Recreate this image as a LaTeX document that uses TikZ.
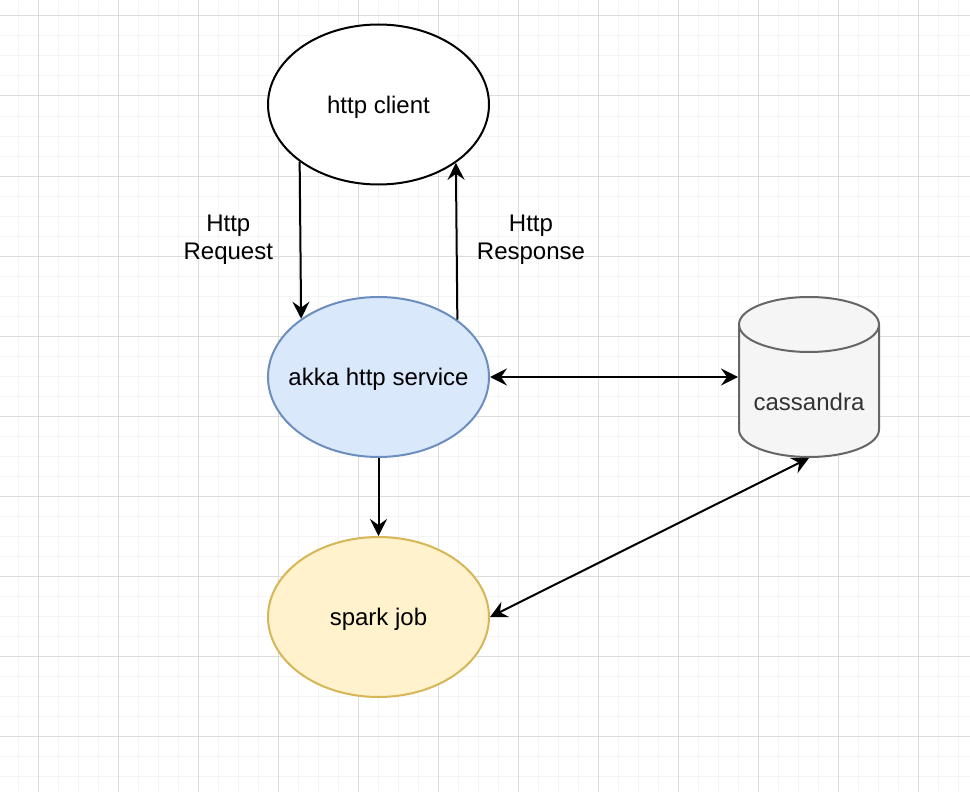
\documentclass[tikz,border=0pt]{standalone}
\usepackage{fontspec}
\setmainfont{Liberation Sans}
\usetikzlibrary{shapes.geometric,arrows.meta}
\definecolor{gridmajor}{HTML}{DCDCDC}
\definecolor{gridminor}{HTML}{F4F4F4}
\definecolor{akkafill}{HTML}{DAE8FC}
\definecolor{akkaline}{HTML}{6C8EBF}
\definecolor{sparkfill}{HTML}{FFF2CC}
\definecolor{sparkline}{HTML}{D6B656}
\definecolor{cylfill}{HTML}{F5F5F5}
\definecolor{cylline}{HTML}{666666}
\definecolor{cyltext}{HTML}{333333}
\tikzset{
  txt/.style={font=\fontsize{24}{27.5}\selectfont},
  oval/.style={ellipse, draw, line width=2pt, minimum width=221pt, minimum height=160pt, inner sep=0pt},
  ovaltext/.style={label={[txt, yshift=-2.5pt, inner sep=0pt]center:#1}},
  tip/.tip={Stealth[length=17pt,width=17pt,inset=6pt]},
  conn/.style={line width=2pt, -tip},
  biconn/.style={line width=2pt, tip-tip},
  lbl/.style={txt, align=center, inner sep=0pt},
}
\begin{document}
\begin{tikzpicture}[x=1pt,y=-1pt]
\useasboundingbox (0,0) rectangle (970,792);
\fill[white] (0,0) rectangle (970,792);
% grid
\foreach \gx in {18,38,...,958} \draw[gridminor, line width=1pt] (\gx,0) -- (\gx,792);
\foreach \gy in {16,36,...,776} \draw[gridminor, line width=1pt] (0,\gy) -- (970,\gy);
\foreach \gx in {38,118,...,918} \draw[gridmajor, line width=1pt] (\gx,0) -- (\gx,792);
\foreach \gy in {16,96,...,736} \draw[gridmajor, line width=1pt] (0,\gy) -- (970,\gy);
% nodes
\node[oval, fill=white, ovaltext={http client}] (hc) at (378.5,104.5) {};
\node[oval, fill=akkafill, draw=akkaline, ovaltext={akka http service}] (akka) at (378.5,377) {};
\node[oval, fill=sparkfill, draw=sparkline, ovaltext={spark job}] (spark) at (378.5,617) {};
% cylinder
\node[minimum width=140pt, minimum height=160pt, inner sep=0pt, outer sep=1pt] (cas) at (809,377) {};
\filldraw[fill=cylfill, draw=cylline, line width=2pt]
  (739,324.5) -- (739,429.5) arc[start angle=180, end angle=360, x radius=70pt, y radius=27.5pt]
  -- (879,324.5) arc[start angle=0, end angle=180, x radius=70pt, y radius=27.5pt] -- cycle;
\draw[cylline, line width=2pt] (739,324.5) arc[start angle=180, end angle=360, x radius=70pt, y radius=27.5pt];
\node[txt, text=cyltext, anchor=base, inner sep=0pt] (castxt) at (809,410) {cassandra};
% connectors
\draw[conn] (hc.216.2) -- (akka.143.8);
\draw[conn] (akka.36.2) -- (hc.323.8);
\draw[biconn] (akka.east) -- (cas.west);
\draw[conn] (akka.south) -- (spark.north);
\draw[biconn] (spark.east) -- (cas.south);
% labels
\node[lbl, anchor=base] (lreq) at (228.3,259.3) {Http\\Request};
\node[lbl, anchor=base] (lres) at (531,259.3) {Http\\Response};
\end{tikzpicture}
\end{document}
